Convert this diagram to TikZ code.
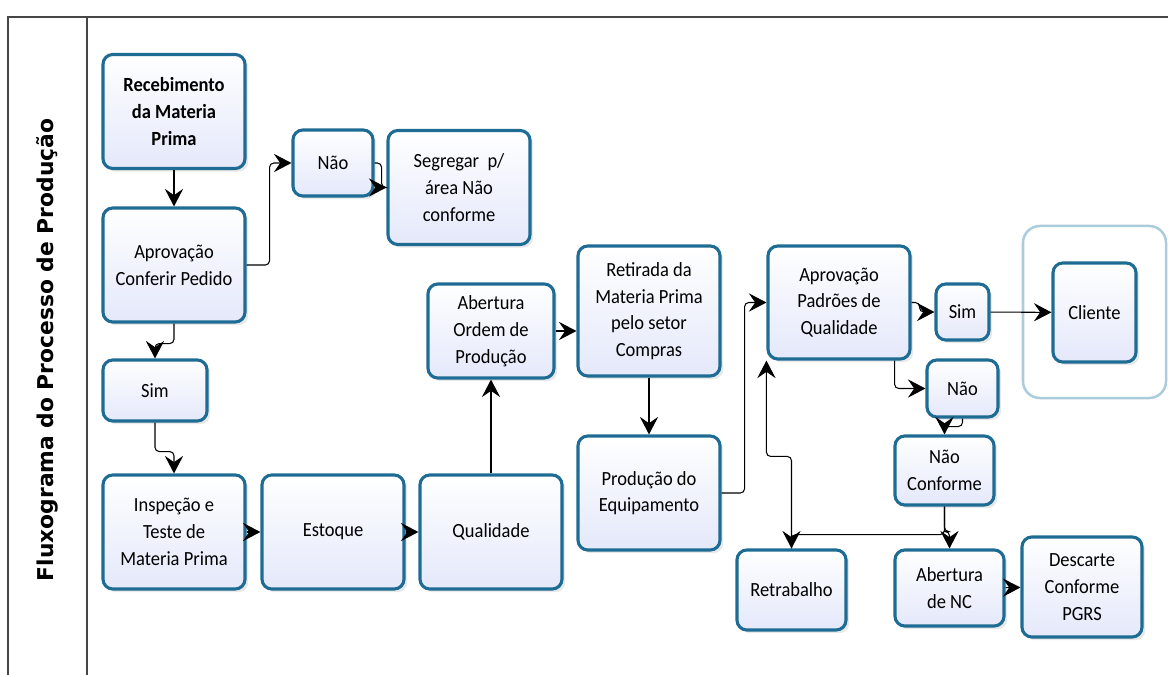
\documentclass[tikz,border=0pt]{standalone}
\usepackage{fontspec}
\setmainfont{Carlito}[FakeStretch=0.92]
\newfontfamily\titlefont{DejaVu Sans}
\usetikzlibrary{arrows.meta,calc,shadows}

\definecolor{boxline}{RGB}{30,108,148}
\definecolor{boxfill}{RGB}{228,232,250}
\definecolor{groupline}{RGB}{170,204,219}
\definecolor{frameline}{RGB}{70,70,70}

\tikzset{
	box/.style={draw=boxline, line width=2.2pt, rounded corners=7pt,
		top color=white, bottom color=boxfill, align=center, inner sep=2pt,
		minimum width=3.55cm, minimum height=2.85cm,
		font=\fontsize{14.3}{19}\selectfont,
		drop shadow={shadow xshift=0.08cm, shadow yshift=-0.08cm, opacity=0.18}},
	conn/.style={line width=0.75pt, rounded corners=3pt,
		-{Stealth[length=12.5pt,width=13pt,inset=4.5pt]}},
}

\begin{document}
\begin{tikzpicture}[x=0.025cm, y=-0.025cm]

	\useasboundingbox (0,0) rectangle (1168,675);
	\draw[frameline, line width=1.4pt] (1168,17) -- (8,17) -- (8,675);
	\draw[frameline, line width=1.4pt] (87,17) -- (87,675);
	\node[rotate=90, font=\titlefont\bfseries\fontsize{15.5}{18}\selectfont] (title) at (47,350) {Fluxograma do Processo de Produção};

	\node[box, font=\bfseries\fontsize{14.3}{19}\selectfont] (rec) at (174,111.5) {Recebimento\\da Materia\\Prima};
	\node[box] (apr) at (174,265) {Aprovação\\Conferir Pedido};
	\node[box, minimum width=2.6cm, minimum height=1.525cm] (sim1) at (155,390.5) {Sim};
	\node[box] (insp) at (174,532) {Inspeção e\\Teste de\\Materia Prima};
	\node[box] (est) at (333,532) {Estoque};
	\node[box] (qual) at (491,532) {Qualidade};

	\node[box, minimum width=2cm, minimum height=1.65cm] (nao1) at (333,163) {Não};
	\node[box] (seg) at (459,187.5) {Segregar\ \ p/\\área Não\\conforme};

	\node[box, minimum width=3.15cm, minimum height=2.35cm] (abo) at (491,331) {Abertura\\Ordem de\\Produção};
	\node[box, minimum height=3.25cm] (ret) at (649,311) {Retirada da\\Materia Prima\\pelo setor\\Compras};
	\node[box] (prod) at (649,493) {Produção do\\Equipamento};

	\node[box, minimum height=2.825cm] (app) at (839,302.5) {Aprovação\\Padrões de\\Qualidade};
	\node[box, minimum width=1.325cm, minimum height=1.4cm] (sim2) at (962.5,312) {Sim};
	\node[box, minimum width=1.775cm, minimum height=1.425cm] (nao2) at (962.5,388.5) {Não};
	\node[box, minimum width=2.475cm, minimum height=1.725cm] (ncf) at (944.5,470.5) {Não\\Conforme};
	\node[box, minimum width=2.725cm, minimum height=2cm] (retb) at (791.5,590) {Retrabalho};
	\node[box, minimum width=2.725cm, minimum height=1.9cm] (abnc) at (949.5,588) {Abertura\\de NC};
	\node[box, minimum width=3cm, minimum height=2.5cm] (desc) at (1082,587) {Descarte\\Conforme\\PGRS};

	\node[draw=groupline, line width=1.8pt, rounded corners=12pt, minimum width=3.575cm, minimum height=4.3cm] (grp) at (1094.5,312) {};
	\node[box, minimum width=2.075cm, minimum height=2.475cm] (cli) at (1094.5,312.5) {Cliente};

	\draw[conn] (rec) -- (apr);
	\draw[conn] (apr.east) -- ++(23,0) |- (nao1.west);
	\draw[conn] (apr.south) -- ++(0,20) -| (sim1.north);
	\draw[conn] (sim1.south) -- ++(0,29) -| (insp.north);
	\draw[conn] (nao1.east) -- ++(7,0) |- (seg.west);
	\draw (insp) edge[conn] (est)
	(est) edge[conn] (qual)
	(qual) edge[conn] (abo)
	(ret) edge[conn] (prod)
	(sim2) edge[conn] (cli)
	(abnc) edge[conn] (desc);
	\draw[conn] (abo.east) -- (abo.east -| ret.west);
	\draw[conn] (prod.east) -- ++(23,0) |- (app.west);
	\draw[conn] (app.east) -- ++(8,0) |- (sim2.west);
	\draw[conn] ($(app.south east)+(-17,0)$) |- (nao2.west);
	\draw[conn] (nao2.south) -- ++(0,8) -| (ncf.north);
	\draw[conn] (ncf.south) -- ++(0,25) -| (abnc.north);
	\draw[conn] (ncf.south) -- ++(0,28) -| (retb.north);
	\draw[conn] (retb.north) -- ++(0,-92) -| (app.south west);

\end{tikzpicture}
\end{document}
